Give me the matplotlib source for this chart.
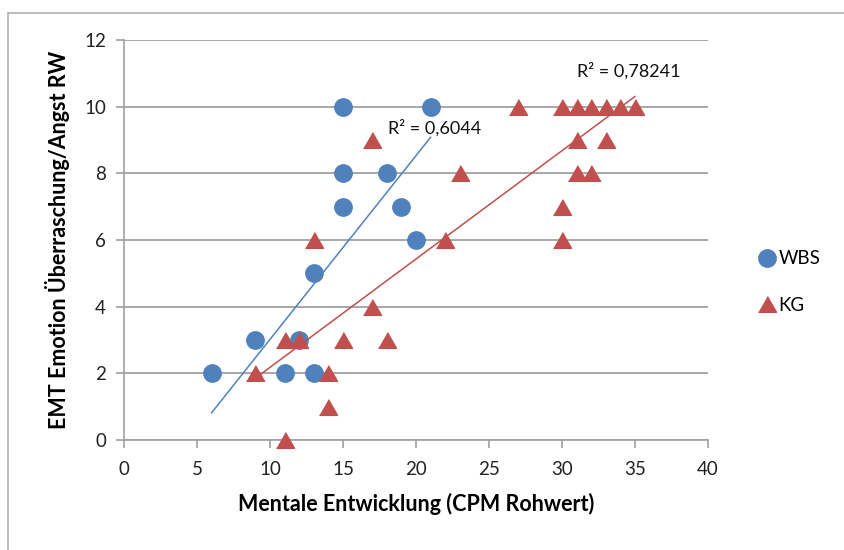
import matplotlib
matplotlib.use("Agg")
import matplotlib.pyplot as plt
from matplotlib.patches import Rectangle
import numpy as np

plt.rcParams['font.family'] = ['Lato', 'DejaVu Sans']

# WBS group: mental development (CPM raw score) vs. EMT emotion score
wbs_x = [6, 9, 11, 12, 13, 13, 15, 15, 15, 18, 19, 20, 21]
wbs_y = [2, 3, 2, 3, 2, 5, 7, 8, 10, 8, 7, 6, 10]

# KG (control group)
kg_x = [9, 11, 11, 12, 13, 14, 14, 15, 17, 17, 18, 22, 23, 27,
        30, 30, 30, 31, 31, 31, 32, 32, 33, 33, 34, 35]
kg_y = [2, 0, 3, 3, 6, 2, 1, 3, 4, 9, 3, 6, 8, 10,
        10, 7, 6, 10, 9, 8, 10, 8, 10, 9, 10, 10]

# Linear trend lines (slope, intercept) and their R² labels
wbs_trend = (0.551, -2.49)
kg_trend = (0.325, -1.07)
wbs_r2_label = "R² = 0,6044"
kg_r2_label = "R² = 0,78241"

series_names = ["WBS", "KG"]
x_ticks = [0, 5, 10, 15, 20, 25, 30, 35, 40]
y_ticks = [0, 2, 4, 6, 8, 10, 12]

blue = "#4F81BD"
red = "#C0504D"
axis_gray = "#A0A0A0"
tri = [(-1, -0.87), (1, -0.87), (0, 0.87)]

fig = plt.figure(figsize=(8.45, 5.5), dpi=100)
# outer chart-area border
fig.patches.append(Rectangle((8 / 845, -0.1), 1.2, (550 - 13) / 550 + 0.1,
                             transform=fig.transFigure, fill=False,
                             edgecolor="#B0B0B0", linewidth=1.2))

ax = fig.add_axes([124 / 845, 110 / 550, 584 / 845, 400 / 550])

ax.set_xlim(0, 40)
ax.set_ylim(0, 12)
ax.set_xticks(x_ticks)
ax.set_yticks(y_ticks)
ax.tick_params(axis='both', direction='out', length=6, width=1.2,
               color=axis_gray, labelsize=13.5, labelcolor="#222222", pad=7)
ax.tick_params(axis='x', pad=9)

for s in ['top', 'right']:
    ax.spines[s].set_visible(False)
for s in ['left', 'bottom']:
    ax.spines[s].set_color(axis_gray)
    ax.spines[s].set_linewidth(1.2)

ax.yaxis.grid(True, color=axis_gray, linewidth=1.3)
ax.set_axisbelow(True)

ax.plot(wbs_x, wbs_y, linestyle='none', marker='o', markersize=12.5,
        color=blue, label=series_names[0], zorder=3, clip_on=False)
ax.plot(kg_x, kg_y, linestyle='none', marker=tri, markersize=13,
        color=red, label=series_names[1], zorder=4, clip_on=False)

xs = np.array([min(wbs_x), max(wbs_x)])
ax.plot(xs, wbs_trend[0] * xs + wbs_trend[1], color=blue, linewidth=1.1, zorder=5)
xs = np.array([min(kg_x), max(kg_x)])
ax.plot(xs, kg_trend[0] * xs + kg_trend[1], color=red, linewidth=1.1, zorder=5)

ax.text(18.1, 9.36, wbs_r2_label, fontsize=13, ha='left', va='center', color="#111111", zorder=6)
ax.text(31.0, 11.08, kg_r2_label, fontsize=13, ha='left', va='center', color="#111111", zorder=6)

ax.set_xlabel("Mentale Entwicklung (CPM Rohwert)", fontsize=15.5, fontweight='bold', labelpad=11)
ax.set_ylabel("EMT Emotion Überraschung/Angst RW", fontsize=15.5, fontweight='bold', labelpad=10)

ax.legend(loc='center left', bbox_to_anchor=(752 / 845, 1 - 282 / 550),
          bbox_transform=fig.transFigure, frameon=False, fontsize=13.5,
          handlelength=0.6, handletextpad=0.3, labelspacing=1.55, borderpad=0)

fig.savefig("out.png", dpi=100)
